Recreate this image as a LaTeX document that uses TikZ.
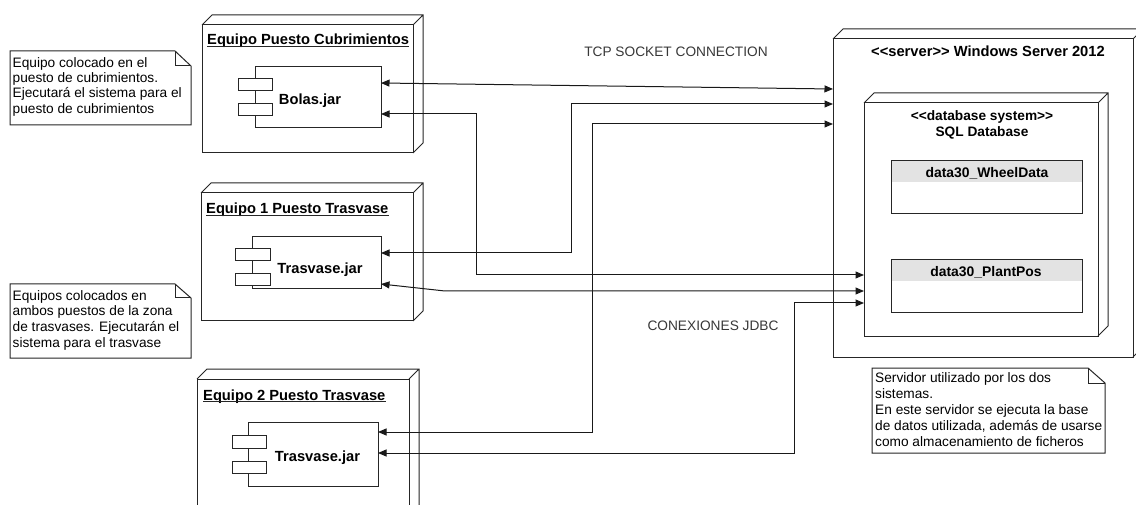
\documentclass[tikz,border=0pt]{standalone}
\usepackage{fontspec}
\setmainfont{Liberation Sans}
\usetikzlibrary{arrows.meta,calc}

% outline of the receding faces of a 3D deployment node
\newcommand\depthfaces[1]{%
  \draw[boxline] (#1.north west) -- ++(10,-10) -- ($(#1.north east)+(10,-10)$)
    -- ($(#1.south east)+(10,-10)$) -- (#1.south east)
    (#1.north east) -- ++(10,-10);}
% note outline with a folded top-right corner
\newcommand\foldnote[3]{%
  \draw[boxline,fill=white] (#1.north west) -- ($(#1.north east)+(-#2,0)$)
    -- ($(#1.north east)+(0,#3)$) -- (#1.south east) -- (#1.south west) -- cycle;
  \draw[boxline] ($(#1.north east)+(-#2,0)$) -- ($(#1.north east)+(-#2,#3)$)
    -- ($(#1.north east)+(0,#3)$);}
% underline under a title node
\newcommand\uline[1]{%
  \draw[boxline] ($(#1.base west)+(0,1.6)$) -- ($(#1.base east)+(0,1.6)$);}
% stereotype brackets without the guillemet ligature
\newcommand\stlt{{<}{<}}
\newcommand\stgt{{>}{>}}

\begin{document}
\begin{tikzpicture}[x=1pt,y=-1pt,
  boxline/.style={draw=black!85,line width=1pt},
  box/.style={boxline,fill=white,inner sep=0pt,outer sep=0pt,anchor=north west},
  tab/.style={box},
  hdr/.style={fill=black!11,inner sep=0pt,outer sep=0pt,anchor=north west,
    minimum width=190pt,minimum height=21pt},
  title/.style={inner sep=0pt,anchor=base west,
    font=\fontsize{14.7}{17}\selectfont\bfseries},
  complabel/.style={inner sep=0pt,anchor=base,
    font=\fontsize{14.7}{17}\selectfont\bfseries},
  dbtext/.style={inner sep=0pt,anchor=base,
    font=\fontsize{13.7}{16}\selectfont\bfseries},
  hdrtext/.style={inner sep=0pt,anchor=base,
    font=\fontsize{13.9}{16}\selectfont\bfseries},
  linklabel/.style={inner sep=0pt,anchor=base,text=black!78,
    font=\fontsize{13.7}{16}\selectfont},
  notearea/.style={inner sep=0pt,outer sep=0pt,anchor=north west},
  notetext/.style={inner sep=0pt,anchor=north west,align=left},
  conn/.style={draw=black!90,line width=1pt,
    {Triangle[length=8.5pt,width=7pt]}-{Triangle[length=8.5pt,width=7pt]}}
]
\clip (0,0) rectangle (1136,505);
\fill[white] (0,0) rectangle (1136,505);

% ---------- Equipo Puesto Cubrimientos ----------
\node[box,minimum width=211pt,minimum height=128pt] (eq1) at (202,25) {};
\depthfaces{eq1}
\node[title] (eq1t) at (207,44.5) {Equipo Puesto Cubrimientos};
\uline{eq1t}
\node[box,minimum width=126pt,minimum height=61pt] (bolas) at (255,67) {};
\node[box,minimum width=34pt,minimum height=12pt] (bolasa) at (238,79) {};
\node[box,minimum width=34pt,minimum height=12pt] (bolasb) at (238,104) {};
\node[complabel] (bolasl) at (310,105) {Bolas.jar};

% ---------- Equipo 1 Puesto Trasvase ----------
\node[box,minimum width=212pt,minimum height=128pt] (eq2) at (201,193) {};
\depthfaces{eq2}
\node[title] (eq2t) at (206,214) {Equipo 1 Puesto Trasvase};
\uline{eq2t}
\node[box,minimum width=129pt,minimum height=52pt] (tra) at (252,237) {};
\node[box,minimum width=35pt,minimum height=12pt] (traa) at (235,249) {};
\node[box,minimum width=35pt,minimum height=12pt] (trab) at (235,273.5) {};
\node[complabel] (tral) at (320,274) {Trasvase.jar};

% ---------- Equipo 2 Puesto Trasvase ----------
\node[box,minimum width=212pt,minimum height=151pt] (eq3) at (197,379) {};
\depthfaces{eq3}
\node[title] (eq3t) at (203,400) {Equipo 2 Puesto Trasvase};
\uline{eq3t}
\node[box,minimum width=130pt,minimum height=64pt] (trb) at (248,422) {};
\node[box,minimum width=34pt,minimum height=13pt] (trba) at (232,435) {};
\node[box,minimum width=34pt,minimum height=12pt] (trbb) at (232,461) {};
\node[complabel] (trbl) at (317.5,461) {Trasvase.jar};

% ---------- Server ----------
\node[box,minimum width=300pt,minimum height=318pt] (server) at (833,39) {};
\depthfaces{server}
\node[dbtext,font=\fontsize{14.7}{17}\selectfont\bfseries] (servert) at (988,56.7)
  {\stlt server\stgt{} Windows Server 2012};

\node[box,minimum width=234pt,minimum height=233pt] (db) at (864,103) {};
\depthfaces{db}
\node[dbtext] (dbt1) at (982,121) {\stlt database system\stgt};
\node[dbtext] (dbt2) at (982,137) {SQL Database};

\node[tab,minimum width=191pt,minimum height=53pt] (t1) at (891,161) {};
\node[hdr] (t1h) at (891.5,161.5) {};
\node[hdrtext] (t1t) at (987,177.5) {data30\_WheelData};

\node[tab,minimum width=191pt,minimum height=53pt] (t2) at (891,260) {};
\node[hdr] (t2h) at (891.5,260.5) {};
\node[hdrtext] (t2t) at (986,276.5) {data30\_PlantPos};

% ---------- Notes ----------
\node[notearea,minimum width=181pt,minimum height=74pt] (n1) at (10,51) {};
\foldnote{n1}{16}{15}
\node[notetext,font=\fontsize{13.7}{15.3}\selectfont] (n1t) at (12.5,57)
  {Equipo colocado en el\\puesto de cubrimientos.\\Ejecutará el sistema para el\\puesto de cubrimientos};

\node[notearea,minimum width=181pt,minimum height=74pt] (n2) at (10,284) {};
\foldnote{n2}{16}{14}
\node[notetext,font=\fontsize{13.7}{15.7}\selectfont] (n2t) at (12.5,290)
  {Equipos colocados en\\ambos puestos de la zona\\de trasvases. Ejecutarán el\\sistema para el trasvase};

\node[notearea,minimum width=233pt,minimum height=85pt] (n3) at (872,368) {};
\foldnote{n3}{17}{15}
\node[notetext,font=\fontsize{13.7}{16.2}\selectfont] (n3t) at (875,372)
  {Servidor utilizado por los dos\\sistemas.\\En este servidor se ejecuta la base\\de datos utilizada, además de usarse\\como almacenamiento de ficheros};

% ---------- Link labels ----------
\node[linklabel] (tcp) at (676,56.5) {TCP SOCKET CONNECTION};
\node[linklabel] (jdbc) at (713,330.5) {CONEXIONES JDBC};

% ---------- Connections ----------
\draw[conn] (bolas.east |- 0,83) -- (server.west |- 0,89);
\draw[conn] (bolas.east |- 0,114) -- (476,114) -- (476,275) -- (db.west |- 0,275);
\draw[conn] (tra.east |- 0,253) -- (571,253) -- (571,104) -- (server.west |- 0,104);
\draw[conn] (tra.east |- 0,284) -- (445,291) -- (db.west |- 0,291);
\draw[conn] (trb.east |- 0,432) -- (592,432) -- (592,124) -- (server.west |- 0,124);
\draw[conn] (trb.east |- 0,453) -- (794,453) -- (794,303) -- (db.west |- 0,303);
\end{tikzpicture}
\end{document}
